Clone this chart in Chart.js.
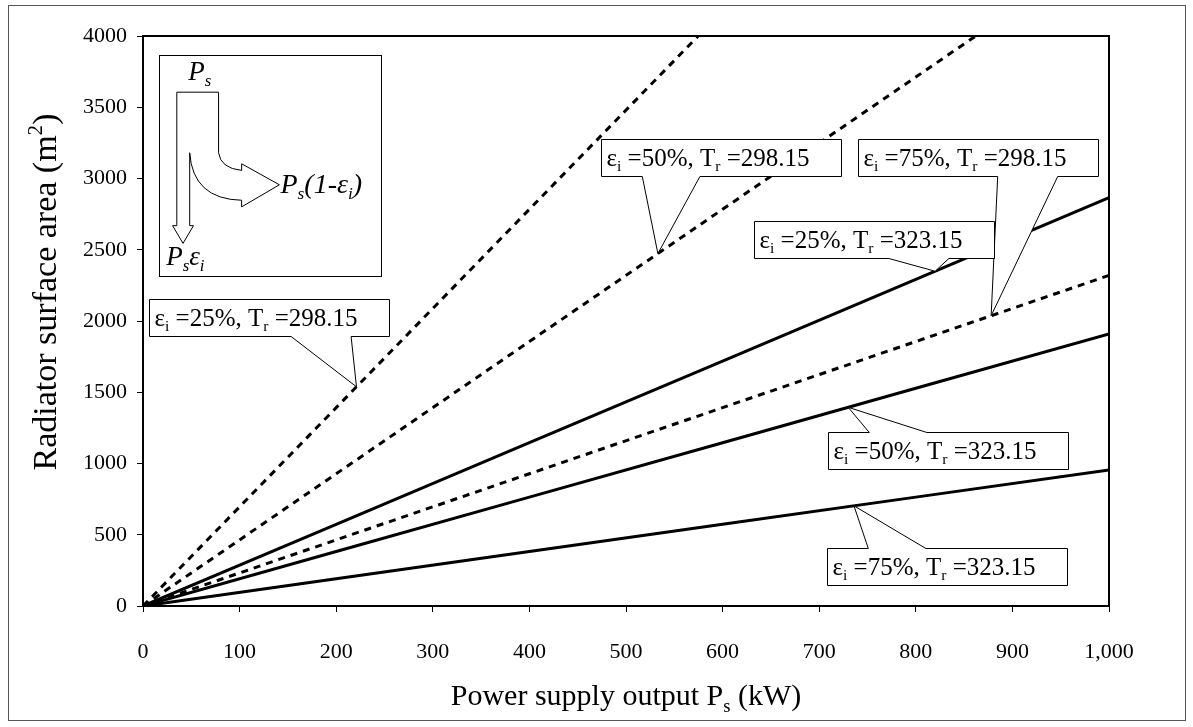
<!DOCTYPE html>
<html>
<head>
<meta charset="utf-8">
<script src="https://cdn.jsdelivr.net/npm/chart.js@4"></script>
<style>
  html, body { margin: 0; padding: 0; background: #fff; }
  #wrap { width: 1193px; height: 727px; }
</style>
</head>
<body>
<div id="wrap"><canvas id="c" width="1193" height="727"></canvas></div>
<script>
// Power supply output (kW) at which each curve is sampled
const powerKW = [0, 200, 400, 600, 800, 1000];

// Radiator surface area (m^2), radiator temperature 323.15 K
const area_e25_T323 = [0, 573, 1146, 1719, 2292, 2865];
const area_e50_T323 = [0, 382, 764, 1146, 1528, 1910];
const area_e75_T323 = [0, 191, 382, 573, 764, 955];

// Radiator surface area (m^2), radiator temperature 298.15 K
const area_e25_T298 = [0, 1392, 2784, 4176, 5568, 6960];
const area_e50_T298 = [0, 928, 1856, 2784, 3712, 4640];
const area_e75_T298 = [0, 464, 928, 1392, 1856, 2320];

// Series descriptors
const efficiencies = ['25%', '50%', '75%', '25%', '50%', '75%'];
const radiatorTemps = ['323.15', '323.15', '323.15', '298.15', '298.15', '298.15'];

// Axis ticks
const xTickValues = [0, 100, 200, 300, 400, 500, 600, 700, 800, 900, 1000];
const yTickValues = [0, 500, 1000, 1500, 2000, 2500, 3000, 3500, 4000];

const SERIF = "'Liberation Serif', 'Times New Roman', serif";

const seriesValues = [area_e25_T323, area_e50_T323, area_e75_T323,
                      area_e25_T298, area_e50_T298, area_e75_T298];

const datasets = seriesValues.map((vals, i) => ({
  label: 'e=' + efficiencies[i] + ', Tr=' + radiatorTemps[i],
  data: powerKW.map((x, k) => ({ x: x, y: vals[k] })),
  borderColor: '#000',
  borderWidth: 3,
  borderDash: radiatorTemps[i] === '298.15' ? [7, 6] : [],
  pointRadius: 0,
  tension: 0,
  fill: false
}));

// Callout annotations: box anchor (data coords), leader wedge on which edge, and the point on the curve
const callouts = [
  { series: 3, box: [6, 2151],   edge: 'bottom', base: [0.59, 0.84], tipX: 221 },
  { series: 4, box: [474, 3276], edge: 'bottom', base: [0.17, 0.41], tipX: 533 },
  { series: 5, box: [740, 3276], edge: 'bottom', base: [0.58, 0.83], tipX: 878 },
  { series: 0, box: [632, 2700], edge: 'bottom', base: [0.56, 0.81], tipX: 820 },
  { series: 1, box: [709, 1223], edge: 'top',    base: [0.17, 0.41], tipX: 730 },
  { series: 2, box: [708, 408],  edge: 'top',    base: [0.17, 0.41], tipX: 736 }
];

// Text made of runs, some sub/superscripted
function richWidth(ctx, segs, size, style) {
  let w = 0;
  for (const s of segs) {
    const fs = (s.sub || s.sup) ? size * 0.62 : size;
    ctx.font = (style === 'italic' ? 'italic ' : '') + fs + 'px ' + SERIF;
    w += ctx.measureText(s.t).width;
  }
  return w;
}
function drawRich(ctx, segs, x, y, size, align, style) {
  const w = richWidth(ctx, segs, size, style);
  let cx = align === 'center' ? x - w / 2 : (align === 'right' ? x - w : x);
  ctx.textBaseline = 'alphabetic';
  ctx.textAlign = 'left';
  for (const s of segs) {
    const fs = (s.sub || s.sup) ? size * 0.62 : size;
    ctx.font = (style === 'italic' ? 'italic ' : '') + fs + 'px ' + SERIF;
    const dy = s.sub ? size * 0.22 : (s.sup ? -size * 0.4 : 0);
    ctx.fillText(s.t, cx, y + dy);
    cx += ctx.measureText(s.t).width;
  }
  return w;
}

function valueAt(series, x) {
  const vals = seriesValues[series];
  for (let k = 1; k < powerKW.length; k++) {
    if (x <= powerKW[k]) {
      const t = (x - powerKW[k - 1]) / (powerKW[k] - powerKW[k - 1]);
      return vals[k - 1] + t * (vals[k] - vals[k - 1]);
    }
  }
  return vals[vals.length - 1];
}

const decorPlugin = {
  id: 'decor',
  beforeDraw(chart) {
    const ctx = chart.ctx;
    ctx.save();
    ctx.fillStyle = '#fff';
    ctx.fillRect(0, 0, chart.width, chart.height);
    ctx.strokeStyle = '#555';
    ctx.lineWidth = 1;
    ctx.strokeRect(8.5, 5.5, 1177, 715);
    ctx.restore();
  },
  afterDatasetsDraw(chart) {
    const ctx = chart.ctx;
    const xs = chart.scales.x, ys = chart.scales.y;
    const a = chart.chartArea;
    ctx.save();
    // plot frame
    ctx.strokeStyle = '#000';
    ctx.lineWidth = 2;
    ctx.strokeRect(a.left, a.top, a.right - a.left, a.bottom - a.top);

    // callouts
    const fs = 25;
    callouts.forEach(c => {
      const segs = [
        { t: 'ε' }, { t: 'i', sub: true },
        { t: ' =' + efficiencies[c.series] + ', T' }, { t: 'r', sub: true },
        { t: ' =' + radiatorTemps[c.series] }
      ];
      const tw = richWidth(ctx, segs, fs);
      const bw = Math.round(tw + 37), bh = 37;
      const bx = Math.round(xs.getPixelForValue(c.box[0])) + 0.5;
      const by = Math.round(ys.getPixelForValue(c.box[1])) + 0.5;
      const tx = xs.getPixelForValue(c.tipX);
      const ty = ys.getPixelForValue(valueAt(c.series, c.tipX));
      const b1 = bx + bw * c.base[0], b2 = bx + bw * c.base[1];
      ctx.beginPath();
      if (c.edge === 'bottom') {
        ctx.moveTo(bx, by);
        ctx.lineTo(bx + bw, by);
        ctx.lineTo(bx + bw, by + bh);
        ctx.lineTo(b2, by + bh);
        ctx.lineTo(tx, ty);
        ctx.lineTo(b1, by + bh);
        ctx.lineTo(bx, by + bh);
      } else {
        ctx.moveTo(bx, by + bh);
        ctx.lineTo(bx + bw, by + bh);
        ctx.lineTo(bx + bw, by);
        ctx.lineTo(b2, by);
        ctx.lineTo(tx, ty);
        ctx.lineTo(b1, by);
        ctx.lineTo(bx, by);
      }
      ctx.closePath();
      ctx.fillStyle = '#fff';
      ctx.fill();
      ctx.strokeStyle = '#000';
      ctx.lineWidth = 1;
      ctx.stroke();
      ctx.fillStyle = '#000';
      drawRich(ctx, segs, bx + 5, by + 26, fs, 'left');
    });

    // power-split sketch in the upper-left corner
    const L = 159.5, T = 55.5, W = 222, H = 221;
    const P = (u, v) => [L + u * W, T + v * H];
    ctx.fillStyle = '#fff';
    ctx.fillRect(L, T, W, H);
    ctx.strokeStyle = '#000';
    ctx.lineWidth = 1;
    ctx.strokeRect(L, T, W, H);

    ctx.beginPath();
    let p;
    // straight branch down (P_s * eps_i)
    p = P(0.136, 0.44); ctx.moveTo(p[0], p[1]);
    p = P(0.136, 0.77); ctx.lineTo(p[0], p[1]);
    p = P(0.153, 0.77); ctx.lineTo(p[0], p[1]);
    p = P(0.106, 0.85); ctx.lineTo(p[0], p[1]);
    p = P(0.059, 0.77); ctx.lineTo(p[0], p[1]);
    p = P(0.078, 0.77); ctx.lineTo(p[0], p[1]);
    p = P(0.078, 0.166); ctx.lineTo(p[0], p[1]);
    p = P(0.266, 0.166); ctx.lineTo(p[0], p[1]);
    p = P(0.266, 0.44); ctx.lineTo(p[0], p[1]);
    // curved branch to the right (P_s(1 - eps_i))
    let c1 = P(0.275, 0.51), e1 = P(0.37, 0.52);
    ctx.quadraticCurveTo(c1[0], c1[1], e1[0], e1[1]);
    p = P(0.37, 0.49); ctx.lineTo(p[0], p[1]);
    p = P(0.54, 0.585); ctx.lineTo(p[0], p[1]);
    p = P(0.37, 0.685); ctx.lineTo(p[0], p[1]);
    p = P(0.37, 0.655); ctx.lineTo(p[0], p[1]);
    c1 = P(0.15, 0.65); e1 = P(0.136, 0.44);
    ctx.quadraticCurveTo(c1[0], c1[1], e1[0], e1[1]);
    ctx.stroke();

    ctx.fillStyle = '#000';
    p = P(0.13, 0.11);
    drawRich(ctx, [{ t: 'P' }, { t: 's', sub: true }], p[0], p[1], 27, 'left', 'italic');
    p = P(0.545, 0.62);
    drawRich(ctx, [{ t: 'P' }, { t: 's', sub: true }, { t: '(1-ε' }, { t: 'i', sub: true }, { t: ')' }],
             p[0], p[1], 28, 'left', 'italic');
    p = P(0.03, 0.95);
    drawRich(ctx, [{ t: 'P' }, { t: 's', sub: true }, { t: 'ε' }, { t: 'i', sub: true }],
             p[0], p[1], 27, 'left', 'italic');

    // axis titles
    ctx.fillStyle = '#000';
    drawRich(ctx, [{ t: 'Power supply output P' }, { t: 's', sub: true }, { t: ' (kW)' }],
             (a.left + a.right) / 2, 705, 30, 'center');
    ctx.translate(56, 292);
    ctx.rotate(-Math.PI / 2);
    drawRich(ctx, [{ t: 'Radiator surface area (m' }, { t: '2', sup: true }, { t: ')' }],
             0, 0, 34, 'center');
    ctx.restore();
  }
};

new Chart(document.getElementById('c'), {
  type: 'line',
  data: { datasets: datasets },
  plugins: [decorPlugin],
  options: {
    responsive: false,
    animation: false,
    devicePixelRatio: 1,
    layout: { padding: { left: 10, top: 36, right: 84, bottom: 10 } },
    plugins: { legend: { display: false }, tooltip: { enabled: false } },
    scales: {
      x: {
        type: 'linear',
        min: 0, max: 1000,
        afterBuildTicks: s => { s.ticks = xTickValues.map(v => ({ value: v })); },
        afterFit: s => { s.height = 111; },
        ticks: {
          color: '#000',
          font: { family: SERIF, size: 22 },
          padding: 27,
          maxRotation: 0,
          autoSkip: false,
          callback: v => Number(v).toLocaleString('en-US')
        },
        grid: { drawOnChartArea: false, drawTicks: true, tickLength: 6, color: '#000', lineWidth: 1 },
        border: { display: true, color: '#000', width: 2 }
      },
      y: {
        type: 'linear',
        min: 0, max: 4000,
        afterBuildTicks: s => { s.ticks = yTickValues.map(v => ({ value: v })); },
        afterFit: s => { s.width = 133; },
        ticks: {
          color: '#000',
          font: { family: SERIF, size: 22 },
          padding: 10,
          autoSkip: false,
          callback: v => String(v)
        },
        grid: { drawOnChartArea: false, drawTicks: true, tickLength: 6, color: '#000', lineWidth: 1 },
        border: { display: true, color: '#000', width: 2 }
      }
    }
  }
});
</script>
</body>
</html>
